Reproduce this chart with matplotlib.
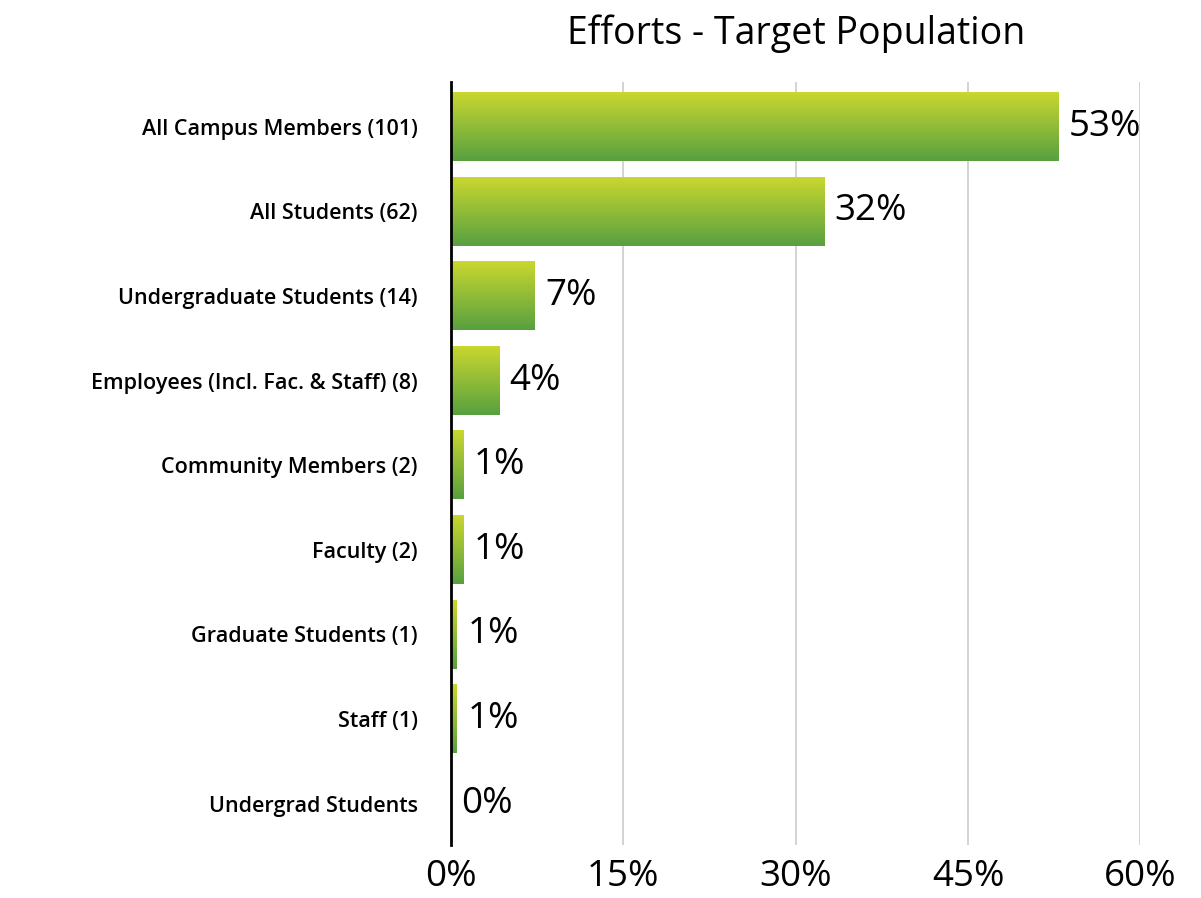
import numpy as np
import matplotlib
matplotlib.use("Agg")
import matplotlib.pyplot as plt
from matplotlib.colors import LinearSegmentedColormap

categories = ["All Campus Members (101)", "All Students (62)", "Undergraduate Students (14)",
              "Employees (Incl. Fac. & Staff) (8)", "Community Members (2)", "Faculty (2)",
              "Graduate Students (1)", "Staff (1)", "Undergrad Students"]
values = [52.9, 32.5, 7.3, 4.2, 1.05, 1.05, 0.52, 0.52, 0.0]
value_labels = ["53%", "32%", "7%", "4%", "1%", "1%", "1%", "1%", "0%"]
xticks = [0, 15, 30, 45, 60]
xtick_labels = ["0%", "15%", "30%", "45%", "60%"]

plt.rcParams['font.family'] = ['Open Sans', 'DejaVu Sans']

fig = plt.figure(figsize=(12.01, 8.98), dpi=100)
ax = fig.add_axes([0.3755, 0.059, 0.9495 - 0.3755, 0.9087 - 0.059])

cmap = LinearSegmentedColormap.from_list("grn", ["#c9d72f", "#58a040"])
grad = np.linspace(0, 1, 100).reshape(-1, 1)
h = 0.81

for i, v in enumerate(values):
    if v > 0:
        ax.imshow(grad, cmap=cmap, aspect='auto', extent=[0, v, i + h / 2, i - h / 2],
                  interpolation='bicubic', zorder=2)
    ax.text(v + 0.9, i, value_labels[i], va='center', ha='left', fontsize=26.5,
            fontweight='medium', color='black')

ax.set_xlim(0, 60)
ax.set_ylim(8.49, -0.53)
ax.set_yticks(range(len(categories)))
ax.set_yticklabels(categories, fontsize=15.5, fontweight='semibold')
ax.set_xticks(xticks)
ax.set_xticklabels(xtick_labels, fontsize=26.5, fontweight='medium')
ax.tick_params(axis='both', length=0)
ax.tick_params(axis='y', pad=24)
ax.tick_params(axis='x', pad=10)
ax.grid(axis='x', color='#cccccc', linewidth=1.2, zorder=0)
ax.set_axisbelow(True)
for s in ['top', 'right', 'bottom']:
    ax.spines[s].set_visible(False)
ax.spines['left'].set_linewidth(2)
ax.spines['left'].set_zorder(3)

ax.set_title("Efforts - Target Population", fontsize=27, fontweight='medium', pad=27)

fig.savefig("out.png", dpi=100)
